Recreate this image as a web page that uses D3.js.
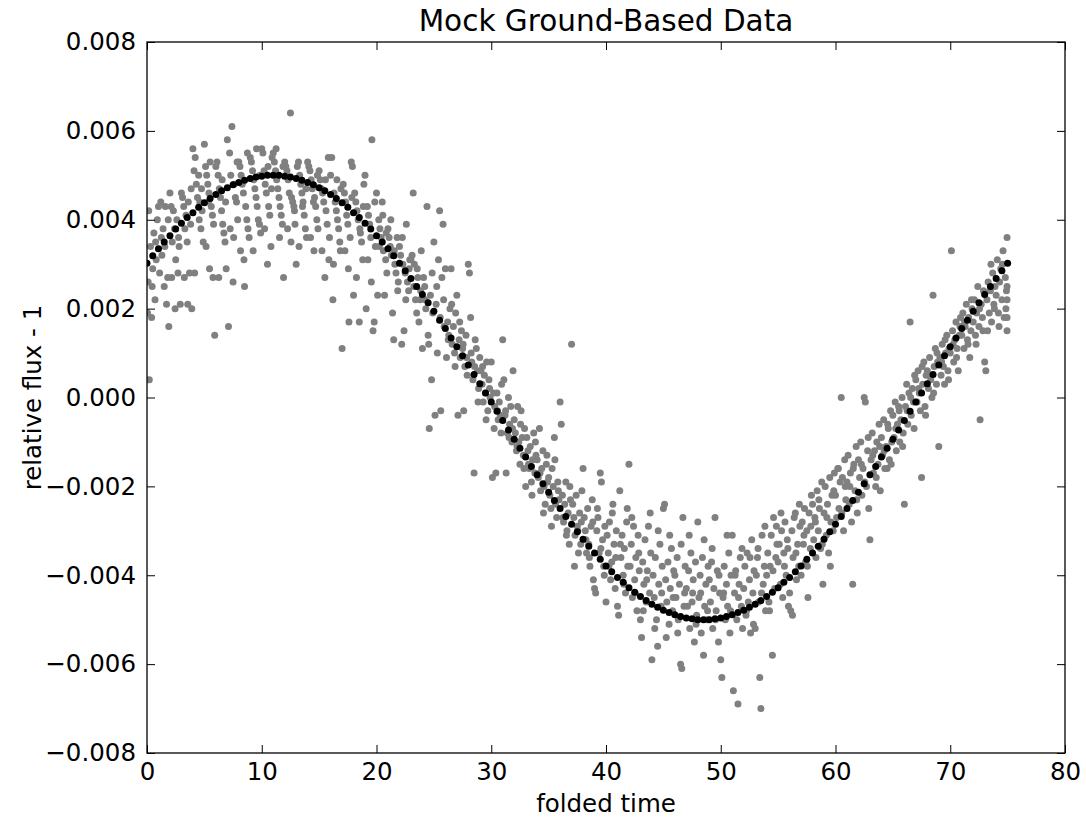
<!DOCTYPE html>
<html>
<head>
<meta charset="utf-8">
<script src="https://cdn.jsdelivr.net/npm/d3@7"></script>
<style>
body { margin: 0; background: #fff; }
svg { display: block; font-family: "DejaVu Sans", sans-serif; }
</style>
</head>
<body>
<svg id="chart" width="1086" height="823"></svg>
<script>
// tick values
const xTicks = [0, 10, 20, 30, 40, 50, 60, 70, 80];
const yTicks = [-0.008, -0.006, -0.004, -0.002, 0, 0.002, 0.004, 0.006, 0.008];

// model curve (black), flux in units of 1e-4
const modelTime = [0,0.5,1,1.5,2,2.5,3,3.5,4,4.5,5,5.5,6,6.5,7,7.5,8,8.5,9,9.5,10,10.5,11,11.5,12,12.5,13,13.5,14,14.5,15,15.5,16,16.5,17,17.5,18,18.5,19,19.5,20,20.5,21,21.5,22,22.5,23,23.5,24,24.5,25,25.5,26,26.5,27,27.5,28,28.5,29,29.5,30,30.5,31,31.5,32,32.5,33,33.5,34,34.5,35,35.5,36,36.5,37,37.5,38,38.5,39,39.5,40,40.5,41,41.5,42,42.5,43,43.5,44,44.5,45,45.5,46,46.5,47,47.5,48,48.5,49,49.5,50,50.5,51,51.5,52,52.5,53,53.5,54,54.5,55,55.5,56,56.5,57,57.5,58,58.5,59,59.5,60,60.5,61,61.5,62,62.5,63,63.5,64,64.5,65,65.5,66,66.5,67,67.5,68,68.5,69,69.5,70,70.5,71,71.5,72,72.5,73,73.5,74,74.5,75];
const modelFluxE4 = [30.2,31.9,33.5,35.0,36.4,37.9,39.2,40.5,41.6,42.8,43.8,44.8,45.7,46.5,47.2,47.9,48.4,48.9,49.3,49.6,49.8,50.0,50.0,50.0,49.8,49.6,49.3,48.9,48.4,47.9,47.2,46.5,45.7,44.8,43.8,42.8,41.6,40.5,39.2,37.9,36.4,35.0,33.5,31.9,30.2,28.5,26.8,25.0,23.2,21.3,19.4,17.4,15.5,13.4,11.4,9.4,7.3,5.2,3.1,1.0,-1.0,-3.1,-5.2,-7.3,-9.4,-11.4,-13.4,-15.5,-17.4,-19.4,-21.3,-23.2,-25.0,-26.8,-28.5,-30.2,-31.9,-33.5,-35.0,-36.4,-37.9,-39.2,-40.5,-41.6,-42.8,-43.8,-44.8,-45.7,-46.5,-47.2,-47.9,-48.4,-48.9,-49.3,-49.6,-49.8,-50.0,-50.0,-50.0,-49.8,-49.6,-49.3,-48.9,-48.4,-47.9,-47.2,-46.5,-45.7,-44.8,-43.8,-42.8,-41.6,-40.5,-39.2,-37.9,-36.4,-35.0,-33.5,-31.9,-30.2,-28.5,-26.8,-25.0,-23.2,-21.3,-19.4,-17.4,-15.5,-13.4,-11.4,-9.4,-7.3,-5.2,-3.1,-1.0,1.0,3.1,5.2,7.3,9.4,11.4,13.4,15.5,17.4,19.4,21.3,23.2,25.0,26.8,28.5,30.2];

// mock ground-based points (gray): [folded time, flux in units of 1e-4]
const groundData = [
[0.1,26],[0.2,4],[0.3,34],[0.4,18],[0.5,29],[0.6,37],[0.7,22],[0.8,31],[0.9,40],[0.15,42],[0.45,25],[0.75,35],[0.05,19],
[1.0,43],[1.1,28],[1.2,44],[1.3,32],[1.4,38],[1.5,25],[1.6,43],[1.7,21],[1.8,27],[1.9,16],[1.25,36],[1.55,34],[1.85,40],
[2.0,46],[2.1,43],[2.2,35],[2.3,42],[2.4,38],[2.5,31],[2.6,40],[2.7,28],[2.8,34],[2.9,21],[2.15,27],[2.45,20],[2.75,36],
[3.0,46],[3.1,45],[3.2,43],[3.3,38],[3.4,41],[3.5,35],[3.6,44],[3.7,28],[3.8,39],[3.9,20],[3.25,27],[3.55,21],[3.85,47],
[4.0,56],[4.1,51],[4.2,54],[4.3,48],[4.4,45],[4.5,50],[4.6,44],[4.7,38],[4.8,42],[4.9,35],[4.15,28],[4.55,40],[4.75,47],
[5.0,57],[5.1,52],[5.2,50],[5.3,48],[5.4,46],[5.5,53],[5.6,43],[5.7,41],[5.8,39],[5.9,14],[5.15,34],[5.45,29],[5.75,27],[5.35,44],
[6.0,52],[6.1,53],[6.2,50],[6.3,47],[6.4,45],[6.5,42],[6.6,39],[6.7,37],[6.8,35],[6.9,29],[6.25,27],[6.55,49],[6.85,44],
[7.0,58],[7.1,16],[7.2,55],[7.3,50],[7.4,61],[7.5,26],[7.6,48],[7.7,45],[7.8,44],[7.9,40],[7.25,38],[7.55,36],[7.85,53],
[8.0,53],[8.1,52],[8.2,50],[8.3,48],[8.4,46],[8.5,25],[8.6,43],[8.7,40],[8.8,38],[8.9,36],[8.15,33],[8.45,31],[8.75,55],
[9.0,54],[9.1,53],[9.2,51],[9.3,49],[9.4,47],[9.5,45],[9.6,43],[9.7,40],[9.8,39],[9.9,37],[9.25,33],[9.55,56],[9.85,50],
[10.0,56],[10.1,55],[10.2,51],[10.3,48],[10.4,46],[10.5,30],[10.6,43],[10.7,41],[10.8,34],[10.9,54],[10.25,38],[10.55,52],[10.85,47],
[11.0,55],[11.1,53],[11.2,51],[11.3,49],[11.4,47],[11.5,45],[11.6,43],[11.7,41],[11.8,39],[11.9,27],[11.25,56],[11.55,36],[11.85,52],
[12.0,53],[12.1,52],[12.2,51],[12.3,49],[12.4,46],[12.5,64],[12.6,45],[12.7,44],[12.8,43],[12.9,39],[12.25,38],[12.55,35],[12.85,42],
[13.0,30],[13.1,52],[13.2,53],[13.3,50],[13.4,48],[13.5,46],[13.6,44],[13.7,41],[13.8,38],[13.9,36],[13.25,34],[13.55,43],[13.85,47],
[14.0,53],[14.1,52],[14.2,51],[14.3,49],[14.4,47],[14.5,44],[14.6,45],[14.7,43],[14.8,40],[14.9,38],[14.25,36],[14.55,33],[14.85,50],
[15.0,51],[15.1,49],[15.2,47],[15.3,46],[15.4,44],[15.5,27],[15.6,42],[15.7,39],[15.8,54],[15.9,36],[15.25,33],[15.55,49],[15.85,31],
[16.0,50],[16.1,54],[16.2,22],[16.3,46],[16.4,44],[16.5,42],[16.6,40],[16.7,38],[16.8,35],[16.9,47],[16.25,30],[16.55,49],[16.85,33],
[17.0,11],[17.1,48],[17.2,46],[17.3,44],[17.4,41],[17.5,39],[17.6,17],[17.7,36],[17.8,53],[17.9,52],[17.25,33],[17.55,29],[17.85,45],
[18.0,23],[18.1,46],[18.2,44],[18.3,42],[18.4,40],[18.5,17],[18.6,37],[18.7,35],[18.8,31],[18.9,48],[18.25,27],[18.55,38],[18.85,43],
[19.0,50],[19.1,20],[19.2,43],[19.3,41],[19.4,39],[19.5,36],[19.6,58],[19.7,15],[19.8,17],[19.9,34],[19.25,31],[19.55,26],[19.85,44],
[20.0,46],[20.1,23],[20.2,40],[20.3,38],[20.4,36],[20.5,44],[20.6,33],[20.7,23],[20.8,31],[20.9,28],[20.25,34],[20.55,41],[20.85,37],
[21.0,38],[21.1,36],[21.2,34],[21.3,32],[21.4,19],[21.5,13],[21.6,30],[21.7,28],[21.8,36],[21.9,26],[21.25,40],[21.55,33],[21.85,24],
[22.0,34],[22.1,32],[22.2,12],[22.3,30],[22.4,15],[22.5,28],[22.6,39],[22.7,26],[22.8,24],[22.9,31],[22.25,36],[22.55,22],[22.85,29],
[23.0,31],[23.1,32],[23.2,46],[23.3,30],[23.4,22],[23.5,19],[23.6,27],[23.7,17],[23.8,22],[23.9,33],[23.25,25],[23.55,29],[23.85,24],
[24.0,11],[24.1,27],[24.2,25],[24.3,20],[24.4,43],[24.5,14],[24.6,-7],[24.7,23],[24.8,4],[24.9,19],[24.25,22],[24.55,12],[24.85,28],
[25.0,35],[25.1,-4],[25.2,21],[25.3,10],[25.4,31],[25.5,42],[25.6,-3],[25.7,27],[25.8,39],[25.9,16],[25.25,25],[25.55,18],[25.85,22],
[26.0,29],[26.1,9],[26.2,17],[26.3,14],[26.4,20],[26.5,29],[26.6,12],[26.7,16],[26.8,10],[26.9,19],[26.25,13],[26.55,21],[26.85,7],
[27.0,23],[27.1,-4],[27.2,13],[27.3,9],[27.4,15],[27.5,11],[27.6,-3],[27.7,7],[27.8,14],[27.9,5],[27.25,17],[27.55,12],[27.85,9],
[28.0,30],[28.1,28],[28.2,18],[28.3,8],[28.4,4],[28.5,-17],[28.6,13],[28.7,11],[28.8,6],[28.9,2],[28.25,10],[28.55,7],[28.85,-1],
[29.0,9],[29.1,6],[29.2,3],[29.3,-1],[29.4,5],[29.5,1],[29.6,8],[29.7,-3],[29.8,4],[29.9,0],[29.25,7],[29.55,-5],[29.85,2],
[30.0,8],[30.1,-18],[30.2,1],[30.3,-2],[30.4,-17],[30.5,1],[30.6,-5],[30.7,-1],[30.8,-4],[30.9,3],[30.25,-7],[30.55,-3],[30.85,-8],
[31.0,13],[31.1,4],[31.2,-4],[31.3,-17],[31.4,-8],[31.5,0],[31.6,-6],[31.7,-2],[31.8,-10],[31.9,6],[31.25,-3],[31.55,-9],[31.85,-7],
[32.0,-5],[32.1,-8],[32.2,-12],[32.3,-2],[32.4,-10],[32.5,-15],[32.6,-3],[32.7,-9],[32.8,-13],[32.9,-7],[32.25,-11],[32.55,-6],[32.85,-16],
[33.0,-20],[33.1,-9],[33.2,-12],[33.3,-16],[33.4,-11],[33.5,-19],[33.6,-14],[33.7,-8],[33.8,-17],[33.9,-13],[33.25,-15],[33.55,-22],[33.85,-10],
[34.0,-14],[34.1,-18],[34.2,-7],[34.3,-21],[34.4,-16],[34.5,-12],[34.6,-20],[34.7,-24],[34.8,-15],[34.9,-19],[34.25,-17],[34.55,-26],[34.85,-13],
[35.0,-18],[35.1,-22],[35.2,-25],[35.3,-16],[35.4,-20],[35.5,-9],[35.6,-24],[35.7,-27],[35.8,-19],[35.9,-23],[35.25,-29],[35.55,-14],[35.85,-21],
[36.0,-1],[36.1,-6],[36.2,-22],[36.3,-28],[36.4,-24],[36.5,-19],[36.6,-30],[36.7,-26],[36.8,-33],[36.9,-23],[36.25,-27],[36.55,-31],[36.85,-20],
[37.0,12],[37.1,-24],[37.2,-27],[37.3,-31],[37.4,-22],[37.5,-29],[37.6,-35],[37.7,-26],[37.8,-33],[37.9,-21],[37.25,-38],[37.55,-30],[37.85,-28],
[38.0,-16],[38.1,-27],[38.2,-30],[38.3,-35],[38.4,-25],[38.5,-33],[38.6,-38],[38.7,-29],[38.8,-23],[38.9,-41],[38.25,-32],[38.55,-36],[38.85,-28],
[39.0,-43],[39.1,-44],[39.2,-30],[39.3,-27],[39.4,-35],[39.5,-17],[39.6,-19],[39.7,-32],[39.8,-38],[39.9,-29],[39.25,-25],[39.55,-34],[39.85,-40],
[40.0,-46],[40.1,-31],[40.2,-35],[40.3,-28],[40.4,-41],[40.5,-37],[40.6,-24],[40.7,-33],[40.8,-43],[40.9,-30],[40.25,-38],[40.55,-26],[40.85,-36],
[41.0,-47],[41.1,-49],[41.2,-21],[41.3,-36],[41.4,-31],[41.5,-40],[41.6,-34],[41.7,-44],[41.8,-28],[41.9,-38],[41.25,-33],[41.55,-42],[41.85,-25],
[42.0,-15],[42.1,-38],[42.2,-33],[42.3,-45],[42.4,-29],[42.5,-41],[42.6,-36],[42.7,-48],[42.8,-31],[42.9,-39],[42.25,-27],[42.55,-44],[42.85,-35],
[43.0,-50],[43.1,-54],[43.2,-37],[43.3,-42],[43.4,-32],[43.5,-46],[43.6,-39],[43.7,-29],[43.8,-44],[43.9,-35],[43.25,-48],[43.55,-41],[43.85,-26],
[44.0,-59],[44.1,-40],[44.2,-45],[44.3,-36],[44.4,-50],[44.5,-56],[44.6,-42],[44.7,-33],[44.8,-47],[44.9,-38],[44.25,-52],[44.55,-30],[44.85,-44],
[45.0,-25],[45.1,-24],[45.2,-41],[45.3,-46],[45.4,-37],[45.5,-51],[45.6,-43],[45.7,-34],[45.8,-48],[45.9,-39],[45.25,-54],[45.55,-31],[45.85,-45],
[46.0,-40],[46.1,-45],[46.2,-36],[46.3,-50],[46.4,-42],[46.5,-60],[46.6,-61],[46.7,-27],[46.8,-47],[46.9,-38],[46.25,-53],[46.55,-33],[46.85,-44],
[47.0,-43],[47.1,-47],[47.2,-39],[47.3,-52],[47.4,-35],[47.5,-46],[47.6,-41],[47.7,-55],[47.8,-37],[47.9,-49],[47.25,-31],[47.55,-44],[47.85,-51],
[48.0,-28],[48.1,-45],[48.2,-40],[48.3,-53],[48.4,-36],[48.5,-58],[48.6,-47],[48.7,-42],[48.8,-50],[48.9,-38],[48.25,-44],[48.55,-32],[48.85,-48],
[49.0,-41],[49.1,-46],[49.2,-37],[49.3,-52],[49.4,-43],[49.5,-27],[49.6,-48],[49.7,-39],[49.8,-55],[49.9,-44],[49.25,-34],[49.55,-50],[49.85,-40],
[50.0,-59],[50.1,-63],[50.2,-45],[50.3,-38],[50.4,-50],[50.5,-42],[50.6,-47],[50.7,-35],[50.8,-53],[50.9,-40],[50.25,-44],[50.55,-31],[50.85,-48],
[51.0,-31],[51.1,-66],[51.2,-44],[51.3,-39],[51.4,-50],[51.5,-69],[51.6,-42],[51.7,-36],[51.8,-47],[51.9,-52],[51.25,-40],[51.55,-45],[51.85,-34],
[52.0,-43],[52.1,-38],[52.2,-49],[52.3,-35],[52.4,-46],[52.5,-41],[52.6,-53],[52.7,-32],[52.8,-44],[52.9,-39],[52.25,-48],[52.55,-36],[52.85,-51],
[53.0,-52],[53.1,-40],[53.2,-36],[53.3,-46],[53.4,-63],[53.5,-70],[53.6,-31],[53.7,-42],[53.8,-38],[53.9,-48],[53.25,-34],[53.55,-44],[53.85,-29],
[54.0,-40],[54.1,-35],[54.2,-46],[54.3,-38],[54.4,-31],[54.5,-58],[54.6,-27],[54.7,-43],[54.8,-36],[54.9,-33],[54.25,-48],[54.55,-39],[54.85,-29],
[55.0,-37],[55.1,-33],[55.2,-42],[55.3,-30],[55.4,-45],[55.5,-35],[55.6,-28],[55.7,-40],[55.8,-32],[55.9,-47],[55.25,-26],[55.55,-38],[55.85,-34],
[56.0,-44],[56.1,-48],[56.2,-30],[56.3,-36],[56.4,-27],[56.5,-26],[56.6,-41],[56.7,-33],[56.8,-38],[56.9,-29],[56.25,-49],[56.55,-35],[56.85,-24],
[57.0,-40],[57.1,-28],[57.2,-33],[57.3,-25],[57.4,-37],[57.5,-30],[57.6,-45],[57.7,-26],[57.8,-34],[57.9,-22],[57.25,-31],[57.55,-38],[57.85,-29],
[58.0,-24],[58.1,-32],[58.2,-27],[58.3,-36],[58.4,-21],[58.5,-30],[58.6,-25],[58.7,-34],[58.8,-19],[58.9,-42],[58.25,-28],[58.55,-23],[58.85,-33],
[59.0,-26],[59.1,-20],[59.2,-31],[59.3,-24],[59.4,-35],[59.5,-18],[59.6,-28],[59.7,-22],[59.8,-30],[59.9,-17],[59.25,-27],[59.55,-38],[59.85,-21],
[60.0,-22],[60.1,-27],[60.2,-16],[60.3,-25],[60.4,-19],[60.5,0],[60.6,-18],[60.7,-30],[60.8,-14],[60.9,-23],[60.25,-16],[60.55,-26],[60.85,-20],
[61.0,-19],[61.1,-13],[61.2,-24],[61.3,-17],[61.4,-28],[61.5,-42],[61.6,-15],[61.7,-21],[61.8,-11],[61.9,-26],[61.25,-20],[61.55,-16],[61.85,-23],
[62.0,-14],[62.1,-18],[62.2,-10],[62.3,-22],[62.4,-16],[62.5,0],[62.6,-1],[62.7,-20],[62.8,-12],[62.9,-25],[62.25,-15],[62.55,-19],[62.85,-9],
[63.0,-32],[63.1,-14],[63.2,-8],[63.3,-17],[63.4,-12],[63.5,-20],[63.6,-10],[63.7,-15],[63.8,-6],[63.9,-21],[63.25,-13],[63.55,-18],[63.85,-11],
[64.0,-9],[64.1,-13],[64.2,-5],[64.3,-16],[64.4,-11],[64.5,-16],[64.6,-7],[64.7,-14],[64.8,-3],[64.9,-10],[64.25,-12],[64.55,-6],[64.85,-15],
[65.0,-4],[65.1,-9],[65.2,-1],[65.3,-12],[65.4,-6],[65.5,-2],[65.6,-10],[65.7,-5],[65.8,0],[65.9,-8],[65.25,-7],[65.55,-3],[65.85,-11],
[66.0,-24],[66.1,-2],[66.2,3],[66.3,-6],[66.4,1],[66.5,17],[66.6,-4],[66.7,2],[66.8,-1],[66.9,5],[66.25,-3],[66.55,0],[66.85,-7],
[67.0,4],[67.1,-1],[67.2,6],[67.3,1],[67.4,-3],[67.5,-18],[67.6,3],[67.7,8],[67.8,-2],[67.9,5],[67.25,2],[67.55,7],[67.85,-4],
[68.0,6],[68.1,2],[68.2,9],[68.3,4],[68.4,0],[68.5,23],[68.6,7],[68.7,11],[68.8,3],[68.9,8],[68.25,5],[68.55,1],[68.85,10],
[69.0,-11],[69.1,9],[69.2,5],[69.3,12],[69.4,7],[69.5,3],[69.6,10],[69.7,14],[69.8,6],[69.9,11],[69.25,8],[69.55,13],[69.85,4],
[70.0,10],[70.1,33],[70.2,15],[70.3,8],[70.4,13],[70.5,17],[70.6,11],[70.7,6],[70.8,14],[70.9,18],[70.25,12],[70.55,9],[70.85,16],
[71.0,14],[71.1,19],[71.2,11],[71.3,16],[71.4,21],[71.5,13],[71.6,18],[71.7,9],[71.8,15],[71.9,20],[71.25,17],[71.55,12],[71.85,22],
[72.0,17],[72.1,22],[72.2,14],[72.3,19],[72.4,25],[72.5,16],[72.6,-5],[72.7,21],[72.8,18],[72.9,24],[72.25,12],[72.55,20],[72.85,15],
[73.0,8],[73.1,6],[73.2,22],[73.3,26],[73.4,19],[73.5,24],[73.6,17],[73.7,28],[73.8,21],[73.9,25],[73.25,15],[73.55,30],[73.85,20],
[74.0,23],[74.1,31],[74.2,19],[74.3,26],[74.4,29],[74.5,22],[74.6,33],[74.7,18],[74.8,27],[74.9,24],[74.25,16],[74.55,30],[74.85,20],
[74.95,36],[74.95,25],[74.95,22],[74.95,18],[74.95,15]
];

const width = 1086, height = 823;
const plot = { left: 147, top: 42, right: 1065, bottom: 753 };
const labelSize = "24.5px";
const dotR = 3.5;

const svg = d3.select("#chart");
svg.append("rect").attr("width", width).attr("height", height).attr("fill", "#fff");

const x = d3.scaleLinear().domain([0, 80]).range([plot.left, plot.right]);
const y = d3.scaleLinear().domain([-0.008, 0.008]).range([plot.bottom, plot.top]);

svg.append("clipPath").attr("id", "plotClip")
  .append("rect")
  .attr("x", plot.left).attr("y", plot.top)
  .attr("width", plot.right - plot.left).attr("height", plot.bottom - plot.top);

const dots = svg.append("g").attr("clip-path", "url(#plotClip)");

// gray measurements
dots.selectAll("circle.obs")
  .data(groundData)
  .enter().append("circle")
  .attr("class", "obs")
  .attr("cx", d => x(d[0]))
  .attr("cy", d => y(d[1] * 1e-4))
  .attr("r", dotR)
  .attr("fill", "#808080");

// black model points on top
const model = modelTime.map((t, i) => [t, modelFluxE4[i] * 1e-4]);
dots.selectAll("circle.model")
  .data(model)
  .enter().append("circle")
  .attr("class", "model")
  .attr("cx", d => x(d[0]))
  .attr("cy", d => y(d[1]))
  .attr("r", dotR)
  .attr("fill", "#000");

const fmtY = d3.format(".3f");
const tickLen = 8;

function styleAxis(g) {
  g.select(".domain").remove();
  g.selectAll(".tick line").attr("stroke", "#000").attr("stroke-width", 1);
  g.selectAll(".tick text")
    .attr("fill", "#000")
    .style("font-family", "DejaVu Sans, sans-serif")
    .style("font-size", labelSize);
}

svg.append("g")
  .attr("transform", `translate(0,${plot.bottom})`)
  .call(d3.axisBottom(x).tickValues(xTicks).tickFormat(d3.format("d"))
    .tickSizeInner(-tickLen).tickSizeOuter(0).tickPadding(10))
  .call(styleAxis);

svg.append("g")
  .attr("transform", `translate(0,${plot.top})`)
  .call(d3.axisTop(x).tickValues(xTicks).tickFormat("")
    .tickSizeInner(-tickLen).tickSizeOuter(0))
  .call(styleAxis);

svg.append("g")
  .attr("transform", `translate(${plot.left},0)`)
  .call(d3.axisLeft(y).tickValues(yTicks).tickFormat(fmtY)
    .tickSizeInner(-tickLen).tickSizeOuter(0).tickPadding(11))
  .call(styleAxis);

svg.append("g")
  .attr("transform", `translate(${plot.right},0)`)
  .call(d3.axisRight(y).tickValues(yTicks).tickFormat("")
    .tickSizeInner(-tickLen).tickSizeOuter(0))
  .call(styleAxis);

// frame
svg.append("rect")
  .attr("x", plot.left).attr("y", plot.top)
  .attr("width", plot.right - plot.left).attr("height", plot.bottom - plot.top)
  .attr("fill", "none").attr("stroke", "#000").attr("stroke-width", 1.3);

// title and axis labels
svg.append("text")
  .attr("x", (plot.left + plot.right) / 2).attr("y", 31)
  .attr("text-anchor", "middle")
  .style("font-size", "29.5px")
  .text("Mock Ground-Based Data");

svg.append("text")
  .attr("x", (plot.left + plot.right) / 2).attr("y", 812)
  .attr("text-anchor", "middle")
  .style("font-size", labelSize)
  .text("folded time");

svg.append("text")
  .attr("transform", `translate(41,${(plot.top + plot.bottom) / 2}) rotate(-90)`)
  .attr("text-anchor", "middle")
  .style("font-size", labelSize)
  .text("relative flux - 1");
</script>
</body>
</html>
